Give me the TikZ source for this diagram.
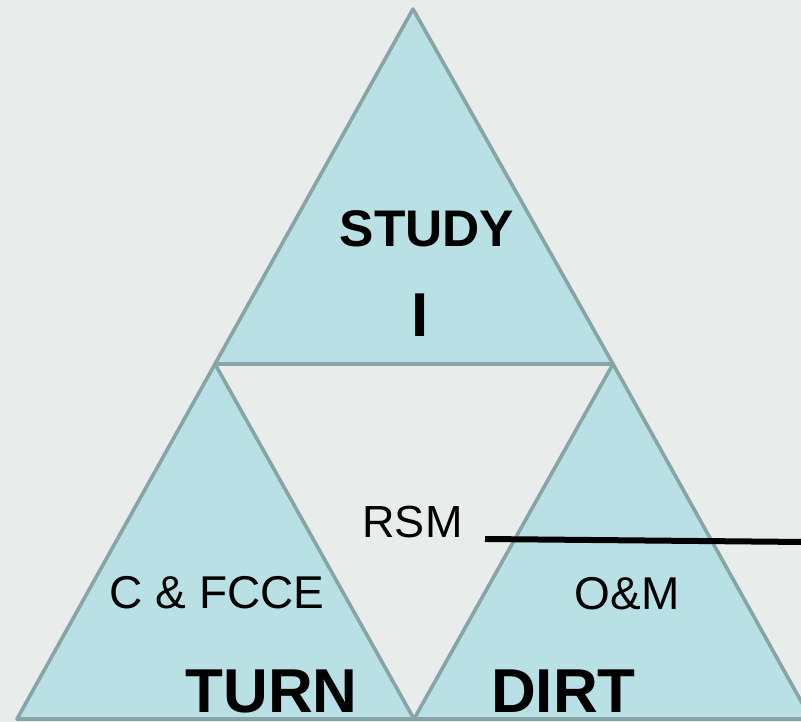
\documentclass[tikz,border=0pt]{standalone}
\usepackage{fontspec}
\setmainfont{Liberation Sans}
\definecolor{bgc}{HTML}{E8ECEB}
\definecolor{trifill}{HTML}{B9E0E4}
\definecolor{triedge}{HTML}{87A4A7}
\begin{document}
\begin{tikzpicture}[x=1pt,y=-1pt,
  tri/.style={fill=trifill,draw=triedge,line width=3.6pt,line join=round},
  lbl/.style={anchor=base,inner sep=0pt,text=black},
  small/.style={lbl,font=\fontsize{46}{46}\selectfont},
  big/.style={lbl,font=\fontsize{62}{62}\selectfont\bfseries},
  mid/.style={lbl,font=\fontsize{51.5}{51.5}\selectfont\bfseries},
  pointer/.style={draw=black,line width=6pt}]
\useasboundingbox (0,0) rectangle (801,722);
\clip (0,0) rectangle (801,722);
\fill[bgc] (0,0) rectangle (801,722);
% triangles
\coordinate (topA) at (413,9);
\coordinate (topL) at (215,364);
\coordinate (topR) at (613,364);
\coordinate (lbL) at (17,719);
\coordinate (mB) at (414,719);
\coordinate (rbR) at (811,719);
\draw[tri] (topA) -- (topL) -- (topR) -- cycle;
\draw[tri] (topL) -- (lbL) -- (mB) -- cycle;
\draw[tri] (topR) -- (mB) -- (rbR) -- cycle;
% labels
\node[mid] (study) at (427,247) {STUDY};
\node[big] (roman) at (420,337) {I};
\node[small,font=\fontsize{45}{45}\selectfont] (rsm) at (412.5,537) {RSM};
\node[small] (cf) at (217,608) {C \& FCCE};
\node[small] (om) at (627,609) {O\&M};
\node[big] (turn) at (271.5,712) {TURN};
\node[big] (dirt) at (563.5,712) {DIRT};
% pointer line
\coordinate (pS) at (485,539);
\coordinate (pE) at (805,542);
\draw[pointer] (pS) -- (pE);
\end{tikzpicture}
\end{document}
